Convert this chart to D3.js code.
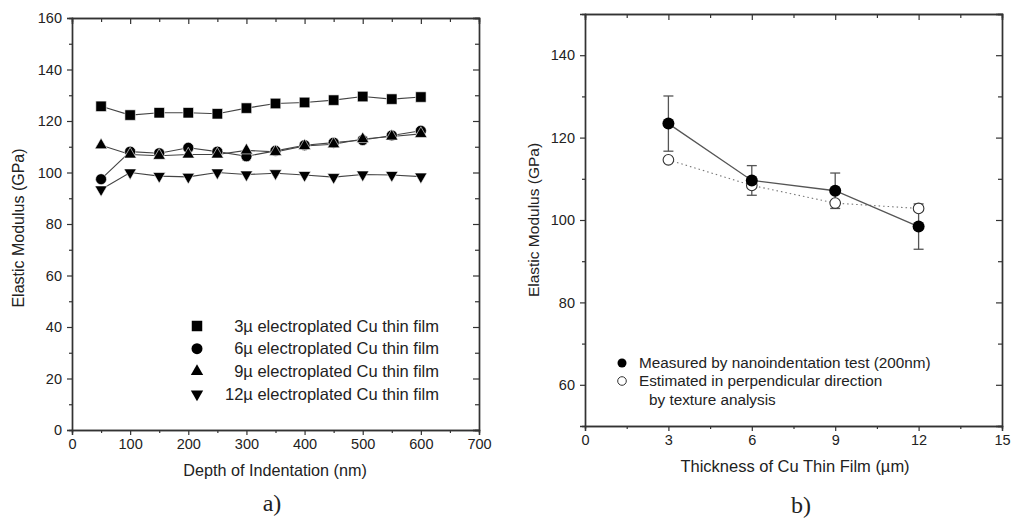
<!DOCTYPE html>
<html>
<head>
<meta charset="utf-8">
<script src="https://cdn.jsdelivr.net/npm/d3@7"></script>
<style>
  body { margin: 0; background: #fff; }
  text { font-family: "Liberation Sans", Arial, sans-serif; fill: #222; }
</style>
</head>
<body>
<div id="chart"></div>
<script>
// panel a) - modulus vs indentation depth
var depth = [50, 100, 150, 200, 250, 300, 350, 400, 450, 500, 550, 600];
var film3 = [125.7, 122.3, 123.2, 123.2, 122.8, 125.0, 126.8, 127.2, 128.1, 129.5, 128.5, 129.3];
var film6 = [97.4, 108.1, 107.5, 109.6, 108.1, 106.3, 108.4, 110.6, 111.6, 112.6, 114.4, 116.2];
var film9 = [110.6, 107.0, 106.5, 107.0, 107.0, 108.6, 108.0, 110.3, 111.0, 113.0, 114.0, 115.0];
var film12 = [93.4, 100.0, 98.6, 98.3, 100.0, 99.2, 99.7, 99.0, 98.2, 99.2, 99.0, 98.4];
var depthTicks = [0, 100, 200, 300, 400, 500, 600, 700];
var modulusTicksA = [0, 20, 40, 60, 80, 100, 120, 140, 160];
var legendA = ["3\u00b5 electroplated Cu thin film", "6\u00b5 electroplated Cu thin film",
               "9\u00b5 electroplated Cu thin film", "12\u00b5 electroplated Cu thin film"];

// panel b) - modulus vs film thickness
var thickness = [3, 6, 9, 12];
var measured = [123.4, 109.6, 107.1, 98.4];
var measuredErr = [6.7, 3.6, 4.3, 5.5];
var estimated = [114.6, 108.4, 104.1, 102.8];
var thicknessTicks = [0, 3, 6, 9, 12, 15];
var modulusTicksB = [60, 80, 100, 120, 140];

var axisColor = "#333";
var lineColor = "#444";

var svg = d3.select("#chart").append("svg")
    .attr("width", 1012)
    .attr("height", 519);

// draws a boxed frame: labelled ticks outside on left/bottom, mirrored inside on top/right
function frame(g, x, y, xTicks, xMinor, yTicks, yMinor) {
    var x0 = x.range()[0], x1 = x.range()[1];
    var y0 = y.range()[0], y1 = y.range()[1];

    var bottom = g.append("g").attr("transform", "translate(0," + y0 + ")");
    bottom.call(d3.axisBottom(x).tickValues(xTicks).tickSize(5).tickPadding(4));
    bottom.append("g").call(d3.axisBottom(x).tickValues(xMinor).tickSize(3).tickFormat(""));

    var top = g.append("g").attr("transform", "translate(0," + y1 + ")");
    top.call(d3.axisTop(x).tickValues(xTicks).tickSize(-6).tickFormat(""));
    top.append("g").call(d3.axisTop(x).tickValues(xMinor).tickSize(-4).tickFormat(""));

    var left = g.append("g").attr("transform", "translate(" + x0 + ",0)");
    left.call(d3.axisLeft(y).tickValues(yTicks).tickSize(5).tickPadding(5));
    left.append("g").call(d3.axisLeft(y).tickValues(yMinor).tickSize(3).tickFormat(""));

    var right = g.append("g").attr("transform", "translate(" + x1 + ",0)");
    right.call(d3.axisRight(y).tickValues(yTicks).tickSize(-6).tickFormat(""));
    right.append("g").call(d3.axisRight(y).tickValues(yMinor).tickSize(-4).tickFormat(""));

    g.selectAll(".domain").attr("stroke", axisColor).attr("stroke-width", 1.4);
    g.selectAll(".tick line").attr("stroke", axisColor).attr("stroke-width", 1.2);
    g.selectAll(".tick text").attr("font-size", 14.5).attr("fill", "#222")
        .attr("font-family", "Liberation Sans, Arial, sans-serif");
}

// ---------- panel a ----------
var xa = d3.scaleLinear().domain([0, 700]).range([72, 479]);
var ya = d3.scaleLinear().domain([0, 160]).range([430, 18]);
var ga = svg.append("g");

frame(ga, xa, ya, depthTicks, [50, 150, 250, 350, 450, 550, 650],
      modulusTicksA, [10, 30, 50, 70, 90, 110, 130, 150]);

var symSquare = d3.symbol().type(d3.symbolSquare).size(110);
var symCircle = d3.symbol().type(d3.symbolCircle).size(95);
var symTri = d3.symbol().type(d3.symbolTriangle).size(66);

var seriesA = [
    { values: film3, sym: symSquare, rot: 0 },
    { values: film6, sym: symCircle, rot: 0 },
    { values: film9, sym: symTri, rot: 0 },
    { values: film12, sym: symTri, rot: 180 }
];

var lineA = d3.line()
    .x(function (d) { return xa(d[0]); })
    .y(function (d) { return ya(d[1]); });

seriesA.forEach(function (s) {
    var pts = depth.map(function (d, i) { return [d, s.values[i]]; });
    ga.append("path")
        .datum(pts)
        .attr("d", lineA)
        .attr("fill", "none")
        .attr("stroke", lineColor)
        .attr("stroke-width", 1.1);
});

seriesA.forEach(function (s) {
    var pts = depth.map(function (d, i) { return [d, s.values[i]]; });
    ga.selectAll(null)
        .data(pts)
        .enter().append("path")
        .attr("d", s.sym())
        .attr("transform", function (d) {
            return "translate(" + xa(d[0]) + "," + ya(d[1]) + ") rotate(" + s.rot + ")";
        })
        .attr("fill", "#000")
        .attr("stroke", "#fff")
        .attr("stroke-width", 0.6);
});

// legend a
seriesA.forEach(function (s, i) {
    var ly = 326 + i * 22.7;
    ga.append("path")
        .attr("d", s.sym())
        .attr("transform", "translate(197," + ly + ") rotate(" + s.rot + ")")
        .attr("fill", "#000");
    ga.append("text")
        .attr("x", 439)
        .attr("y", ly + 5.5)
        .attr("text-anchor", "end")
        .attr("font-size", 16.5)
        .text(legendA[i]);
});

ga.append("text")
    .attr("x", 275)
    .attr("y", 476)
    .attr("text-anchor", "middle")
    .attr("font-size", 16.2)
    .text("Depth of Indentation (nm)");

ga.append("text")
    .attr("transform", "translate(24,228) rotate(-90)")
    .attr("text-anchor", "middle")
    .attr("font-size", 16)
    .text("Elastic Modulus (GPa)");

svg.append("text")
    .attr("x", 272)
    .attr("y", 511)
    .attr("text-anchor", "middle")
    .attr("font-size", 24)
    .style("font-family", "Liberation Serif, serif")
    .text("a)");

// ---------- panel b ----------
var xb = d3.scaleLinear().domain([0, 15]).range([585, 1002]);
var yb = d3.scaleLinear().domain([50, 150]).range([426, 14]);
var gb = svg.append("g");

frame(gb, xb, yb, thicknessTicks, [1.5, 4.5, 7.5, 10.5, 13.5],
      modulusTicksB, [70, 90, 110, 130]);

var lineB = d3.line()
    .x(function (d) { return xb(d[0]); })
    .y(function (d) { return yb(d[1]); });

var measPts = thickness.map(function (t, i) { return [t, measured[i], measuredErr[i]]; });
var estPts = thickness.map(function (t, i) { return [t, estimated[i]]; });

gb.append("path")
    .datum(estPts)
    .attr("d", lineB)
    .attr("fill", "none")
    .attr("stroke", "#777")
    .attr("stroke-width", 1.1)
    .attr("stroke-dasharray", "1.5,3");

gb.append("path")
    .datum(measPts)
    .attr("d", lineB)
    .attr("fill", "none")
    .attr("stroke", "#555")
    .attr("stroke-width", 1.3);

// error bars
var errG = gb.selectAll(".err")
    .data(measPts)
    .enter().append("g")
    .attr("class", "err")
    .attr("stroke", "#555")
    .attr("stroke-width", 1.3);

errG.append("line")
    .attr("x1", function (d) { return xb(d[0]); })
    .attr("x2", function (d) { return xb(d[0]); })
    .attr("y1", function (d) { return yb(d[1] + d[2]); })
    .attr("y2", function (d) { return yb(d[1] - d[2]); });
errG.append("line")
    .attr("x1", function (d) { return xb(d[0]) - 5; })
    .attr("x2", function (d) { return xb(d[0]) + 5; })
    .attr("y1", function (d) { return yb(d[1] + d[2]); })
    .attr("y2", function (d) { return yb(d[1] + d[2]); });
errG.append("line")
    .attr("x1", function (d) { return xb(d[0]) - 5; })
    .attr("x2", function (d) { return xb(d[0]) + 5; })
    .attr("y1", function (d) { return yb(d[1] - d[2]); })
    .attr("y2", function (d) { return yb(d[1] - d[2]); });

gb.selectAll(".est")
    .data(estPts)
    .enter().append("circle")
    .attr("class", "est")
    .attr("cx", function (d) { return xb(d[0]); })
    .attr("cy", function (d) { return yb(d[1]); })
    .attr("r", 5.3)
    .attr("fill", "#fff")
    .attr("stroke", "#333")
    .attr("stroke-width", 1.1);

gb.selectAll(".meas")
    .data(measPts)
    .enter().append("circle")
    .attr("class", "meas")
    .attr("cx", function (d) { return xb(d[0]); })
    .attr("cy", function (d) { return yb(d[1]); })
    .attr("r", 6)
    .attr("fill", "#000");

// legend b
gb.append("circle").attr("cx", 622).attr("cy", 363).attr("r", 4.5).attr("fill", "#000");
gb.append("circle").attr("cx", 622).attr("cy", 381).attr("r", 4.3)
    .attr("fill", "#fff").attr("stroke", "#333").attr("stroke-width", 1);
gb.append("text").attr("x", 639).attr("y", 368).attr("font-size", 15.3)
    .text("Measured by nanoindentation test (200nm)");
gb.append("text").attr("x", 639).attr("y", 386).attr("font-size", 15.3)
    .text("Estimated in perpendicular direction");
gb.append("text").attr("x", 649).attr("y", 405).attr("font-size", 15.3)
    .text("by texture analysis");

gb.append("text")
    .attr("x", 795)
    .attr("y", 472)
    .attr("text-anchor", "middle")
    .attr("font-size", 16.5)
    .text("Thickness of Cu Thin Film (\u00b5m)");

gb.append("text")
    .attr("transform", "translate(539,220) rotate(-90)")
    .attr("text-anchor", "middle")
    .attr("font-size", 15.5)
    .text("Elastic Modulus (GPa)");

svg.append("text")
    .attr("x", 801)
    .attr("y", 513)
    .attr("text-anchor", "middle")
    .attr("font-size", 24)
    .style("font-family", "Liberation Serif, serif")
    .text("b)");
</script>
</body>
</html>
